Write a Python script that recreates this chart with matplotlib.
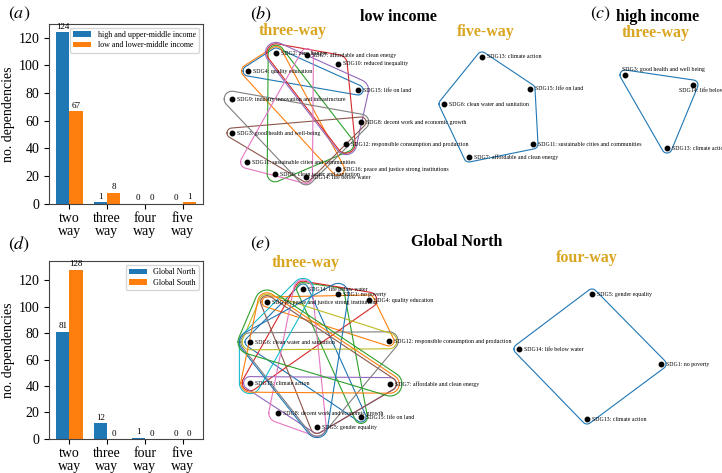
import numpy as np
import matplotlib
matplotlib.use('Agg')
import matplotlib.pyplot as plt

plt.rcParams['font.family'] = ['Liberation Serif', 'DejaVu Serif']
plt.rcParams['mathtext.fontset'] = 'stix'

# ---- bar chart data ----
kinds = ['two\nway', 'three\nway', 'four\nway', 'five\nway']
income_high = [124, 1, 0, 0]
income_low = [67, 8, 0, 1]
north = [81, 12, 1, 0]
south = [128, 0, 0, 0]

# ---- hypergraph data (node positions, in pixels) ----
b3_nodes = {
    'SDG2: zero hunger': (276, 53),
    'SDG7: affordable and clean energy': (307, 55),
    'SDG10: reduced inequality': (338, 64),
    'SDG4: quality education': (248, 71),
    'SDG15: life on land': (358, 90),
    'SDG9: industry innovation and infrastructure': (232, 99),
    'SDG8: decent work and economic growth': (361, 122),
    'SDG3: good health and well-being': (232, 133),
    'SDG12: responsible consumption and production': (346, 144),
    'SDG11: sustainable cities and communities': (247, 162),
    'SDG16: peace and justice strong institutions': (338, 169),
    'SDG6: clean water and sanitation': (275, 174),
    'SDG14: life below water': (306, 177),
}
b3_edges = [
    ['SDG4', 'SDG2', 'SDG15'],
    ['SDG4', 'SDG2', 'SDG16'],
    ['SDG2', 'SDG6', 'SDG12'],
    ['SDG2', 'SDG10', 'SDG12'],
    ['SDG2', 'SDG15', 'SDG12'],
    ['SDG3', 'SDG8', 'SDG14'],
    ['SDG7', 'SDG11', 'SDG14'],
    ['SDG9', 'SDG8', 'SDG14'],
]

b5_nodes = {
    'SDG13: climate action': (482, 57),
    'SDG15: life on land': (530, 89),
    'SDG6: clean water and sanitation': (444, 104),
    'SDG11: sustainable cities and communities': (533, 144),
    'SDG7: affordable and clean energy': (469, 157),
}
b5_edges = [['SDG13', 'SDG15', 'SDG11', 'SDG7', 'SDG6']]

c3_nodes = {
    'SDG3: good health and well being': (625, 75),
    'SDG14: life below water': (693, 85),
    'SDG13: climate action': (667, 148),
}
c3_edges = [['SDG3', 'SDG14', 'SDG13']]
c3_label_offsets = [(-3, -5), (-14, 5), (5, 0)]

e3_nodes = {
    'SDG14: life below water': (303, 289),
    'SDG1: no poverty': (338, 294),
    'SDG16: peace and justice strong institutions': (267, 302),
    'SDG4: quality education': (369, 300),
    'SDG6: clean water and sanitation': (250, 342),
    'SDG12: responsible consumption and production': (389, 341),
    'SDG13: climate action': (250, 383),
    'SDG7: affordable and clean energy': (390, 384),
    'SDG8: decent work and economic growth': (278, 413),
    'SDG15: life on land': (361, 417),
    'SDG5: gender equality': (317, 427),
}
e3_edges = [
    ['SDG14', 'SDG6', 'SDG15'],
    ['SDG16', 'SDG4', 'SDG12'],
    ['SDG14', 'SDG1', 'SDG15'],
    ['SDG13', 'SDG14', 'SDG4'],
    ['SDG13', 'SDG7', 'SDG5'],
    ['SDG16', 'SDG5', 'SDG7'],
    ['SDG14', 'SDG8', 'SDG5'],
    ['SDG6', 'SDG12', 'SDG5'],
    ['SDG6', 'SDG16', 'SDG12'],
    ['SDG14', 'SDG6', 'SDG13'],
    ['SDG6', 'SDG1', 'SDG5'],
    ['SDG16', 'SDG13', 'SDG7'],
    ['SDG16', 'SDG6', 'SDG7'],
]

e4_nodes = {
    'SDG5: gender equality': (592, 294),
    'SDG14: life below water': (519, 349),
    'SDG1: no poverty': (661, 364),
    'SDG13: climate action': (587, 419),
}
e4_edges = [['SDG5', 'SDG1', 'SDG13', 'SDG14']]

gold = '#DAA520'
tab = plt.rcParams['axes.prop_cycle'].by_key()['color']


def hull(pts):
    pts = sorted(set(map(tuple, np.round(pts, 3))))
    def cross(o, a, b):
        return (a[0]-o[0])*(b[1]-o[1]) - (a[1]-o[1])*(b[0]-o[0])
    lower, upper = [], []
    for p in pts:
        while len(lower) >= 2 and cross(lower[-2], lower[-1], p) <= 0:
            lower.pop()
        lower.append(p)
    for p in reversed(pts):
        while len(upper) >= 2 and cross(upper[-2], upper[-1], p) <= 0:
            upper.pop()
        upper.append(p)
    h = lower[:-1] + upper[:-1]
    return np.array(h + [h[0]])


def draw_hypergraph(ax, nodes, edges, r0=5, dr=1.4, label_offsets=None):
    short = {k.split(':')[0]: k for k in nodes}
    used = {k: 0 for k in nodes}
    t = np.linspace(0, 2*np.pi, 40, endpoint=False)
    for i, e in enumerate(edges):
        full = [short[s] for s in e]
        k = max(used[n] for n in full)
        r = r0 + dr*k
        pts = []
        for n in full:
            x, y = nodes[n]
            pts += list(zip(x + r*np.cos(t), y + r*np.sin(t)))
        h = hull(np.array(pts))
        ax.plot(h[:, 0], h[:, 1], color=tab[i % 10], lw=0.8)
        for n in full:
            used[n] += 1
    for j, (name, (x, y)) in enumerate(nodes.items()):
        ax.plot(x, y, 'o', color='black', ms=3.2, zorder=5)
        dx, dy = (5, 0) if label_offsets is None else label_offsets[j]
        ax.text(x + dx, y + dy, name, fontsize=4.2, va='center', ha='left', zorder=6)


fig = plt.figure(figsize=(7.22, 4.73), dpi=100)

# ---- bar panels ----
def bar_panel(rect, a, b, labels):
    ax = fig.add_axes(rect)
    x = np.arange(len(kinds))
    w = 0.35
    b1 = ax.bar(x - w/2, a, w, color=tab[0], label=labels[0])
    b2 = ax.bar(x + w/2, b, w, color=tab[1], label=labels[1])
    for bars in (b1, b2):
        for rect_, v in zip(bars, bars.datavalues):
            ax.text(rect_.get_x() + rect_.get_width()/2, v + 1, str(int(v)),
                    ha='center', va='bottom', fontsize=6.5)
    ax.set_xticks(x)
    ax.set_xticklabels(kinds, fontsize=10, linespacing=1.05)
    ax.set_yticks(np.arange(0, 121, 20))
    ax.tick_params(axis='y', labelsize=10)
    ax.tick_params(axis='x', pad=2)
    ax.set_ylabel('no. dependencies', fontsize=10)
    ax.yaxis.set_label_coords(-0.22, 0.5)
    ax.legend(loc='upper right', fontsize=5.8, handlelength=2.2,
              borderpad=0.4, labelspacing=0.3)
    for s in ax.spines.values():
        s.set_color('#444444')
    return ax

bar_panel([0.068, 0.569, 0.213, 0.381], income_high, income_low,
          ['high and upper-middle income', 'low and lower-middle income'])
bar_panel([0.068, 0.072, 0.213, 0.376], north, south,
          ['Global North', 'Global South'])

# ---- hypergraph overlay ----
net = fig.add_axes([0, 0, 1, 1], zorder=-1)
net.set_xlim(0, 722)
net.set_ylim(473, 0)
net.axis('off')

draw_hypergraph(net, b3_nodes, b3_edges)
draw_hypergraph(net, b5_nodes, b5_edges)
draw_hypergraph(net, c3_nodes, c3_edges, label_offsets=c3_label_offsets)
draw_hypergraph(net, e3_nodes, e3_edges)
draw_hypergraph(net, e4_nodes, e4_edges)

# ---- titles and panel labels ----
for lab, (px, py) in zip(['a', 'b', 'c', 'd', 'e'],
                         [(8, 14), (250, 14), (590, 14), (8, 244), (250, 244)]):
    fig.text(px/722, 1 - py/473, '$(%s)$' % lab, fontsize=13, va='center', ha='left')

for txt, (px, py) in [('low income', (398, 17)), ('high income', (658, 17)),
                      ('Global North', (457, 242))]:
    fig.text(px/722, 1 - py/473, txt, fontsize=11.5, fontweight='bold',
             ha='center', va='center')

for txt, (px, py) in [('three-way', (293, 31)), ('five-way', (486, 32)),
                      ('three-way', (656, 33)), ('three-way', (306, 263)),
                      ('four-way', (587, 258))]:
    fig.text(px/722, 1 - py/473, txt, fontsize=11.5, fontweight='bold',
             color=gold, ha='center', va='center')

fig.savefig('out.png', dpi=100)
